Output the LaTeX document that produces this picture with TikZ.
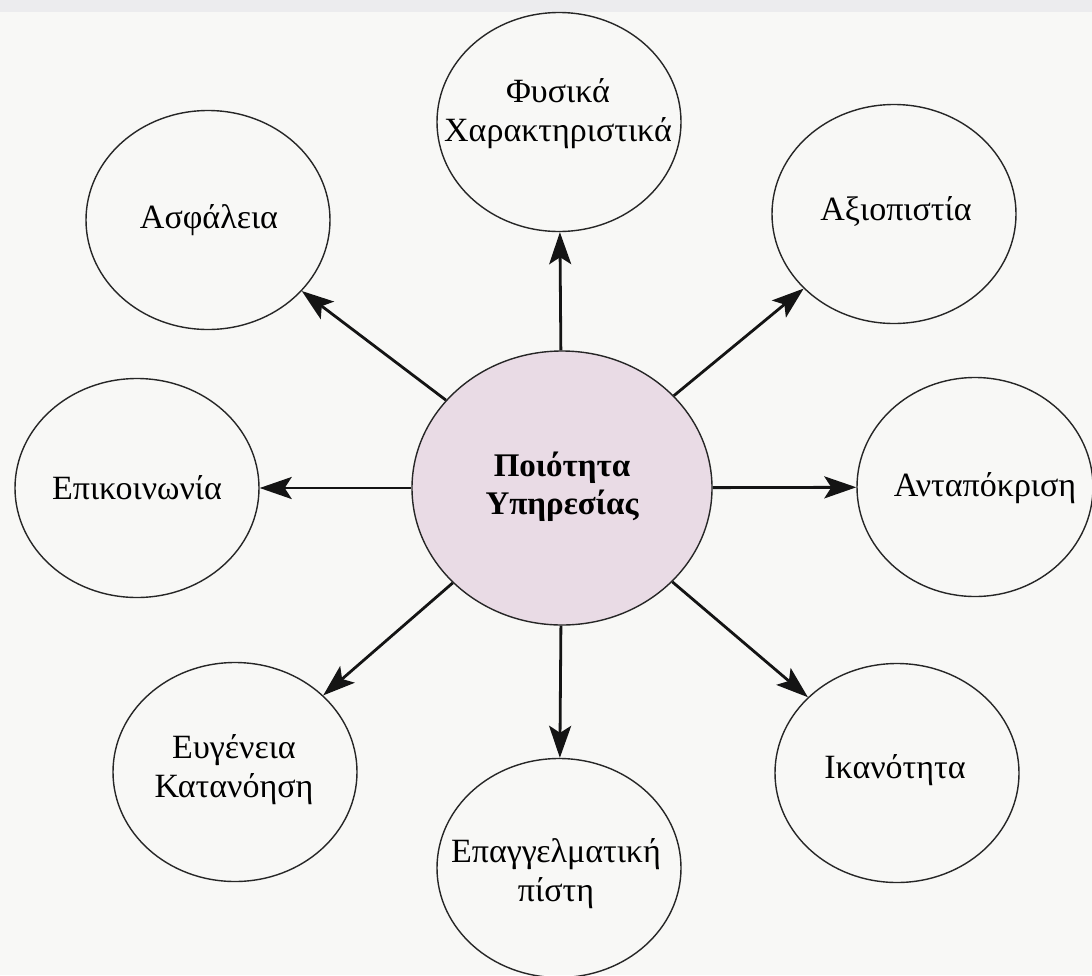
\documentclass[tikz,border=0pt]{standalone}
\usepackage{fontspec}
\setmainfont{Liberation Serif}
\usetikzlibrary{shapes.geometric,arrows.meta}
\definecolor{bgcol}{RGB}{248,248,246}
\definecolor{bandcol}{RGB}{236,236,238}
\definecolor{hubfill}{RGB}{233,219,229}
\tikzset{
  bubble/.style={draw=black!85, line width=1.4pt, ellipse, inner sep=0pt,
                 minimum width=244pt, minimum height=219pt},
  hub/.style={bubble, fill=hubfill, minimum width=300pt, minimum height=274pt},
  lbl/.style={align=center, inner sep=0pt, font=\fontsize{34}{39}\selectfont},
  hublbl/.style={lbl, font=\fontsize{33}{38}\selectfont\bfseries},
  arr/.style={line width=2.8pt, black!92, -{Stealth[length=32pt,width=22pt,inset=7pt]}}
}
\begin{document}
\begin{tikzpicture}[x=1pt,y=-1pt]
\useasboundingbox (0,0) rectangle (1092,975);
\fill[bgcol] (0,0) rectangle (1092,975);
\fill[bandcol] (0,0) rectangle (1092,12);

\node[hub] (c) at (562,488) {};
\node[bubble] (fys) at (559,122) {};
\node[bubble] (asf) at (208,220) {};
\node[bubble] (axi) at (894,214) {};
\node[bubble] (epi) at (137,488) {};
\node[bubble, minimum width=236pt] (ant) at (975,487) {};
\node[bubble] (evg) at (235,772) {};
\node[bubble] (epa) at (559,868) {};
\node[bubble] (ika) at (897,773) {};

\node[hublbl] (tc) at (562,487) {Ποιότητα\\Υπηρεσίας};
\node[lbl] (tfys) at (558,114) {Φυσικά\\Χαρακτηριστικά};
\node[lbl] (tasf) at (209,220) {Ασφάλεια};
\node[lbl] (taxi) at (896,212) {Αξιοπιστία};
\node[lbl] (tepi) at (137,488) {Επικοινωνία};
\node[lbl] (tant) at (985,488) {Ανταπόκριση};
\node[lbl] (tevg) at (234,770) {Ευγένεια\\Κατανόηση};
\node[lbl] (tepa) at (556,874) {Επαγγελματική\\πίστη};
\node[lbl] (tika) at (895,770) {Ικανότητα};

\foreach \t in {fys,asf,axi,epi,ant,evg,epa,ika}
  \draw[arr] (c) -- (\t);
\end{tikzpicture}
\end{document}
